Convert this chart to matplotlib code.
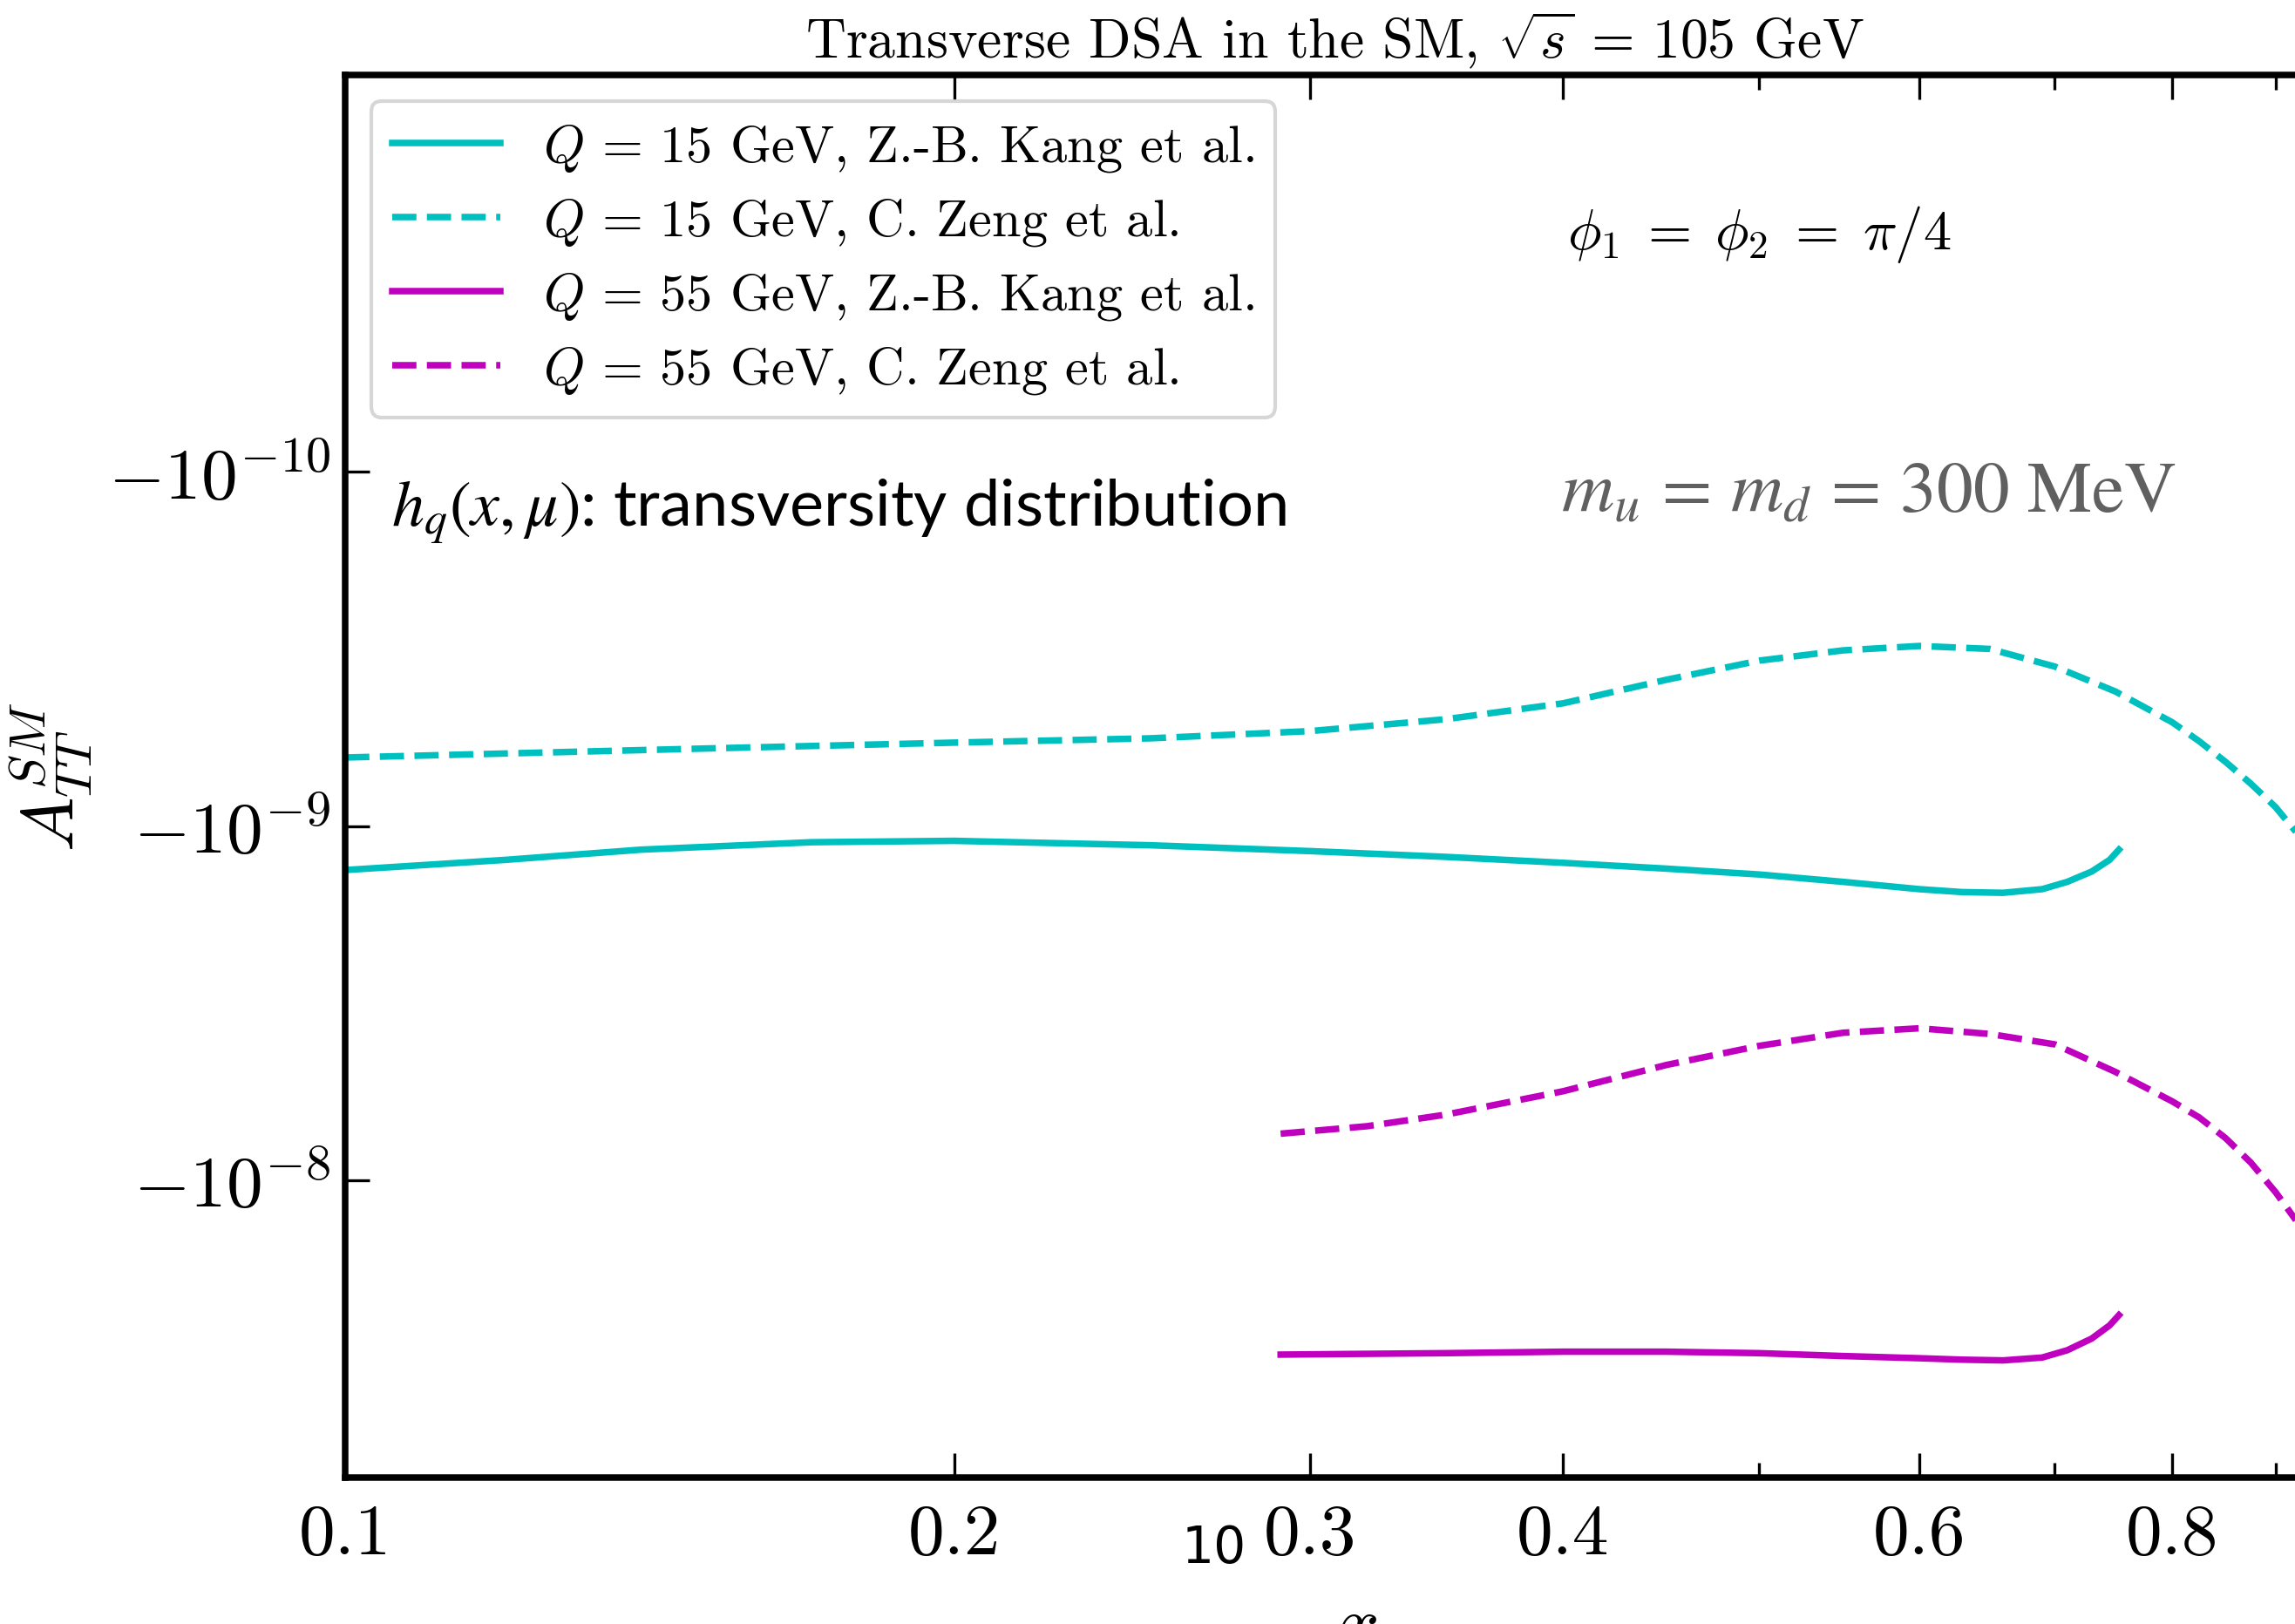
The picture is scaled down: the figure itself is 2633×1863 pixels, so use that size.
import matplotlib
matplotlib.use('Agg')
import matplotlib.pyplot as plt
from matplotlib.ticker import FixedLocator, NullLocator, NullFormatter

plt.rcParams['font.family'] = 'serif'
plt.rcParams['font.serif'] = ['cmr10', 'DejaVu Serif']
plt.rcParams['mathtext.fontset'] = 'cm'
plt.rcParams['axes.unicode_minus'] = False
plt.rcParams['axes.formatter.use_mathtext'] = True

# values
x_kang15 = [0.1, 0.12, 0.14, 0.17, 0.2, 0.25, 0.3, 0.35, 0.4, 0.45, 0.5, 0.55, 0.6,
            0.63, 0.66, 0.69, 0.71, 0.73, 0.745, 0.753]
kang_15 = [-1.330e-9, -1.245e-9, -1.165e-9, -1.110e-9, -1.100e-9, -1.132e-9, -1.176e-9,
           -1.221e-9, -1.269e-9, -1.318e-9, -1.369e-9, -1.436e-9, -1.506e-9, -1.535e-9,
           -1.542e-9, -1.506e-9, -1.436e-9, -1.343e-9, -1.245e-9, -1.165e-9]

x_zeng15 = [0.1, 0.15, 0.2, 0.25, 0.3, 0.35, 0.4, 0.45, 0.5, 0.55, 0.6, 0.65,
            0.7, 0.75, 0.8, 0.825, 0.85, 0.875, 0.9, 0.925, 0.95]
zeng_15 = [-6.4e-10, -6.04e-10, -5.81e-10, -5.65e-10, -5.39e-10, -4.99e-10, -4.50e-10,
           -3.86e-10, -3.41e-10, -3.19e-10, -3.10e-10, -3.16e-10, -3.544e-10, -4.168e-10,
           -5.089e-10, -5.758e-10, -6.58e-10, -7.59e-10, -8.84e-10, -1.069e-9, -1.33e-9]

x_kang55 = [0.29, 0.35, 0.4, 0.45, 0.5, 0.55, 0.6, 0.63, 0.66, 0.69, 0.71, 0.73,
            0.745, 0.753]
kang_55 = [-3.102e-8, -3.073e-8, -3.044e-8, -3.044e-8, -3.073e-8, -3.131e-8, -3.176e-8,
           -3.206e-8, -3.221e-8, -3.162e-8, -3.015e-8, -2.795e-8, -2.566e-8, -2.400e-8]

x_zeng55 = [0.29, 0.32, 0.35, 0.4, 0.45, 0.5, 0.55, 0.6, 0.65, 0.7, 0.75, 0.8,
            0.825, 0.85, 0.875, 0.9, 0.925, 0.95]
zeng_55 = [-7.38e-9, -7.03e-9, -6.52e-9, -5.60e-9, -4.72e-9, -4.17e-9, -3.83e-9,
           -3.72e-9, -3.86e-9, -4.13e-9, -4.94e-9, -5.98e-9, -6.64e-9, -7.59e-9,
           -8.91e-9, -1.08e-8, -1.34e-8, -1.74e-8]

x_major = [0.1, 0.2, 0.3, 0.4, 0.6, 0.8, 1.0]
x_major_labels = ['0.1', '0.2', '0.3', '0.4', '0.6', '0.8', '']
x_minor = [0.5, 0.7, 0.9]
y_ticks = [-1e-10, -1e-9, -1e-8]
y_labels = [r'$-10^{-10}$', r'$-10^{-9}$', r'$-10^{-8}$']

fig = plt.figure(figsize=(2633 / 300, 1864 / 300), dpi=300)
ax = fig.add_axes([0.1504, 0.0901, 0.8815, 0.8632])

lw = 1.8
ax.plot(x_kang15, kang_15, color='c', lw=lw, ls='-',
        label=r'$Q\,=\,15$ GeV, Z.-B. Kang et al.')
ax.plot(x_zeng15, zeng_15, color='c', lw=lw, ls='--',
        label=r'$Q\,=\,15$ GeV, C. Zeng et al.')
ax.plot(x_kang55, kang_55, color='m', lw=lw, ls='-',
        label=r'$Q\,=\,55$ GeV, Z.-B. Kang et al.')
ax.plot(x_zeng55, zeng_55, color='m', lw=lw, ls='--',
        label=r'$Q\,=\,55$ GeV, C. Zeng et al.')

ax.set_xscale('log')
ax.set_yscale('symlog', linthresh=1e-12)
ax.set_xlim(0.1, 1.0)
ax.set_ylim(-6.9e-8, -7.58e-12)

ax.xaxis.set_major_locator(FixedLocator(x_major))
ax.set_xticklabels(x_major_labels)
ax.xaxis.set_minor_locator(FixedLocator(x_minor))
ax.xaxis.set_minor_formatter(NullFormatter())
ax.set_yticks(y_ticks)
ax.set_yticklabels(y_labels)
ax.yaxis.set_minor_locator(NullLocator())

ax.tick_params(which='both', direction='in', top=True, right=True, labelsize=20, width=0.8)
ax.tick_params(which='major', length=6.7)
ax.tick_params(which='minor', length=4)
ax.tick_params(axis='x', pad=7)
ax.tick_params(axis='y', pad=4)
for s in ax.spines.values():
    s.set_linewidth(1.8)

ax.set_xlabel('$x$', fontsize=20, labelpad=8)
ax.set_ylabel(r'$A_{TT}^{SM}$', fontsize=20, labelpad=4)
ax.set_title(r'Transverse DSA in the SM, $\sqrt{s}\,=\,105$ GeV', fontsize=15.3,
             pad=5, x=0.489)

ax.legend(loc='upper left', fontsize=14.5, handlelength=2.05, labelspacing=0.43,
          borderaxespad=0.5)

ax.text(0.604, 0.887, r'$\phi_1\;=\;\phi_2\;=\;\pi/4$', transform=ax.transAxes,
        fontsize=15.5, va='center', ha='left')
ax.text(0.601, 0.701, r'$m_u\,=\,m_d\,=\,300$ MeV', transform=ax.transAxes,
        fontsize=20, va='center', ha='left', color='#606060',
        family='STIXGeneral', math_fontfamily='stix')
ax.text(0.023, 0.689, r'$h_q(x,\mu)$: transversity distribution', transform=ax.transAxes,
        fontsize=17.8, va='center', ha='left', family=['Lato', 'DejaVu Sans'],
        math_fontfamily='stix')

fig.text(0.529, 0.0472, '10', family='DejaVu Sans', fontsize=14, ha='center', va='center')

fig.savefig('out.png', dpi=300)
